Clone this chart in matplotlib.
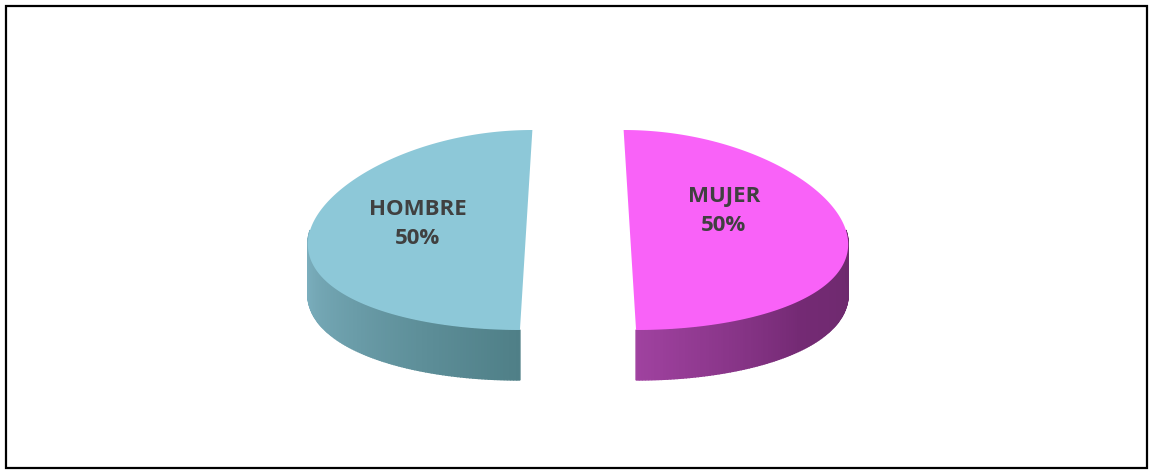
import matplotlib.pyplot as plt
import numpy as np
from matplotlib.patches import Polygon, Rectangle
from matplotlib.colors import to_rgb

# data
labels = ["HOMBRE", "MUJER"]
values = [50, 50]
top_colors = ["#8DC8D8", "#F962F8"]
wall_colors = [["#82B6C6", "#6A9CA8", "#4F7F87"],
               ["#A042A0", "#742A74", "#6C2A6C"]]

# fake 3d pie geometry (pixels)
cx, cy = 578, 230
rx, ry = 216, 100
depth = 50
explode = 0.24
persp = 0.12
label_r = 0.48
label_lift = [0.06, 0.19]
label_dx = -6


def project(X, Y, z=0):
    s = 1 - persp * Y
    return cx + X * rx * s, cy - Y * ry + z


def grad(stops, u):
    c = [np.array(to_rgb(x)) for x in stops]
    u = u * (len(c) - 1)
    k = min(int(u), len(c) - 2)
    f = u - k
    return tuple(c[k] * (1 - f) + c[k + 1] * f)


fig = plt.figure(figsize=(11.49, 4.70), dpi=100)
ax = fig.add_axes([0, 0, 1, 1])
ax.set_xlim(0, 1149)
ax.set_ylim(470, 0)
ax.axis('off')

fracs = np.array(values) / sum(values)
start = 90.0
for i, frac in enumerate(fracs):
    a0, a1 = start, start + 360 * frac
    start = a1
    mid = np.radians((a0 + a1) / 2)
    ox, oy = explode * np.cos(mid), explode * np.sin(mid)
    t = np.radians(np.linspace(a0, a1, 241))
    X = ox + np.cos(t)
    Y = oy + np.sin(t)

    # side wall, only the front part is visible
    vis = np.where(np.sin(t) <= 1e-9)[0]
    if len(vis) > 1:
        tv0, tv1 = t[vis[0]], t[vis[-1]]
        for j in range(vis[0], vis[-1]):
            x0, y0 = project(X[j], Y[j])
            x1, y1 = project(X[j + 1], Y[j + 1])
            x2, y2 = project(X[j + 1], Y[j + 1], depth)
            x3, y3 = project(X[j], Y[j], depth)
            u = ((t[j] + t[j + 1]) / 2 - tv0) / (tv1 - tv0)
            col = grad(wall_colors[i], u)
            ax.add_patch(Polygon([(x0, y0), (x1, y1), (x2, y2), (x3, y3)],
                                 closed=True, facecolor=col, edgecolor=col,
                                 linewidth=1.0, zorder=1))

    # top face
    px, py = project(np.r_[ox, X], np.r_[oy, Y])
    ax.add_patch(Polygon(np.column_stack([px, py]), closed=True,
                         facecolor=top_colors[i], edgecolor='none', zorder=2))

    lx, ly = project(ox + label_r * np.cos(mid), oy + label_lift[i])
    ax.text(lx + label_dx, ly, f"{labels[i]}\n{values[i]:.0f}%",
            ha='center', va='center', fontsize=16, fontweight='bold',
            family=['Open Sans', 'DejaVu Sans'], color='#404040',
            linespacing=1.45, zorder=3)

# chart frame
fig.patches.append(Rectangle((6 / 1149, 2 / 470), 1141 / 1149, 462 / 470,
                             transform=fig.transFigure, fill=False,
                             edgecolor='black', linewidth=1.6))

fig.savefig('out.png', dpi=100, facecolor='white')
